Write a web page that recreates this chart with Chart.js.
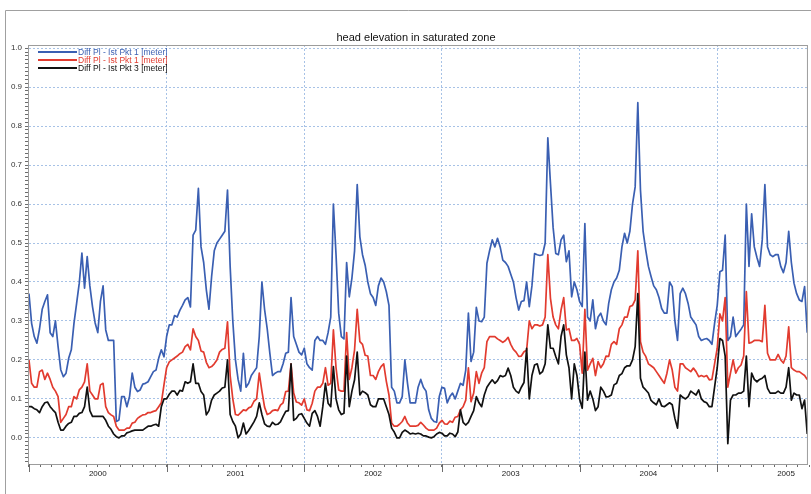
<!DOCTYPE html>
<html>
<head>
<meta charset="utf-8">
<script src="https://cdn.jsdelivr.net/npm/chart.js@4.4.1/dist/chart.umd.min.js"></script>
<style>
  html, body { margin: 0; padding: 0; background: #fff; }
  #wrap { width: 811px; height: 494px; }
</style>
</head>
<body>
<div id="wrap"><canvas id="headChart" width="811" height="494"></canvas></div>
<script>
// weekly readings, Jan 2000 .. Aug 2005, as decimal years
const weeksPerYear = 52;
const sampleCount = 295;
const times = Array.from({ length: sampleCount }, (_, i) => 2000 + i / weeksPerYear);

const years = [2000, 2001, 2002, 2003, 2004, 2005];
const seriesNames = ["Diff Pl - Ist Pkt 1 [meter]", "Diff Pl - Ist Pkt 1 [meter]", "Diff Pl - Ist Pkt 3 [meter]"];

// one row per year
const pkt1Blue = [
  0.37,0.294, 0.26,0.243, 0.28,0.33, 0.35,0.367, 0.27,0.26, 0.30,0.234, 0.175,0.157, 0.166,0.204, 0.226,0.294, 0.345,0.397, 0.474,0.384, 0.465,0.39, 0.337,0.295, 0.27,0.35, 0.39,0.277, 0.25,0.25, 0.25,0.042, 0.046,0.106, 0.106,0.08, 0.106,0.166, 0.13,0.119, 0.123,0.138, 0.14,0.144, 0.157,0.17, 0.174,0.204, 0.226,0.208,
  0.26,0.29, 0.29,0.314, 0.31,0.327, 0.34,0.354, 0.36,0.336, 0.52,0.533, 0.64,0.49, 0.45,0.38, 0.33,0.414, 0.48,0.50, 0.51,0.52, 0.53,0.636, 0.44,0.30, 0.20,0.15, 0.12,0.217, 0.13,0.14, 0.16,0.17, 0.18,0.26, 0.40,0.33, 0.28,0.217, 0.16,0.166, 0.17,0.17, 0.19,0.217, 0.22,0.36, 0.26,0.24, 0.22,0.213,
  0.23,0.19, 0.18,0.174, 0.25,0.26, 0.25,0.25, 0.24,0.27, 0.31,0.60, 0.47,0.32, 0.26,0.254, 0.45,0.362, 0.41,0.48, 0.65,0.516, 0.47,0.443, 0.40,0.37, 0.36,0.34, 0.39,0.41, 0.40,0.375, 0.34,0.13, 0.12,0.09, 0.09,0.106, 0.20,0.14, 0.09,0.09, 0.09,0.13, 0.15,0.13, 0.12,0.072, 0.05,0.042, 0.04,0.106,
  0.13,0.127, 0.09,0.106, 0.115,0.10, 0.12,0.14, 0.135,0.174, 0.32,0.196, 0.22,0.335, 0.30,0.298, 0.31,0.448, 0.48,0.508, 0.49,0.512, 0.49,0.456, 0.45,0.44, 0.42,0.40, 0.36,0.328, 0.35,0.352, 0.40,0.337, 0.39,0.473, 0.47,0.468, 0.47,0.50, 0.77,0.653, 0.54,0.473, 0.47,0.508, 0.52,0.452, 0.48,0.362, 0.40,0.38,
  0.35,0.337, 0.55,0.31, 0.30,0.354, 0.28,0.31, 0.32,0.30, 0.29,0.345, 0.38,0.40, 0.41,0.43, 0.49,0.525, 0.50,0.53, 0.60,0.644, 0.86,0.636, 0.53,0.482, 0.44,0.414, 0.39,0.38, 0.36,0.332, 0.32,0.32, 0.40,0.388, 0.30,0.25, 0.37,0.384, 0.37,0.345, 0.31,0.30, 0.29,0.26, 0.25,0.253, 0.255,0.25, 0.24,0.294,
  0.34,0.426, 0.43,0.52, 0.25,0.26, 0.31,0.26, 0.27,0.279, 0.29,0.60, 0.44,0.575, 0.49,0.463, 0.44,0.508, 0.65,0.49, 0.47,0.465, 0.47,0.47, 0.44,0.424, 0.45,0.53, 0.45,0.397, 0.37,0.354, 0.35,0.388, 0.27
];
const pkt1Red = [
  0.20,0.14, 0.13,0.13, 0.17,0.174, 0.15,0.166, 0.15,0.13, 0.12,0.106, 0.04,0.05, 0.06,0.08, 0.08,0.106, 0.10,0.123, 0.13,0.144, 0.19,0.12, 0.11,0.10, 0.10,0.136, 0.14,0.08, 0.065,0.059, 0.055,0.03, 0.02,0.02, 0.02,0.025, 0.025,0.038, 0.04,0.05, 0.055,0.059, 0.06,0.065, 0.065,0.068, 0.07,0.08, 0.09,0.136,
  0.18,0.195, 0.20,0.205, 0.21,0.216, 0.22,0.234, 0.24,0.226, 0.28,0.26, 0.25,0.223, 0.22,0.194, 0.18,0.183, 0.19,0.20, 0.22,0.227, 0.23,0.298, 0.16,0.10, 0.06,0.058, 0.065,0.072, 0.07,0.077, 0.08,0.094, 0.10,0.166, 0.12,0.079, 0.06,0.063, 0.07,0.072, 0.07,0.084, 0.09,0.119, 0.12,0.19, 0.115,0.092, 0.09,0.084,
  0.10,0.072, 0.07,0.089, 0.12,0.13, 0.13,0.14, 0.18,0.135, 0.14,0.277, 0.18,0.123, 0.12,0.12, 0.27,0.15, 0.18,0.226, 0.33,0.247, 0.24,0.212, 0.21,0.16, 0.16,0.15, 0.17,0.183, 0.19,0.145, 0.11,0.038, 0.03,0.03, 0.035,0.042, 0.055,0.038, 0.03,0.03, 0.03,0.032, 0.04,0.033, 0.025,0.02, 0.02,0.02, 0.025,0.038,
  0.045,0.036, 0.035,0.043, 0.04,0.053, 0.055,0.072, 0.08,0.097, 0.18,0.093, 0.115,0.17, 0.14,0.166, 0.18,0.247, 0.26,0.26, 0.26,0.254, 0.25,0.245, 0.25,0.258, 0.24,0.227, 0.22,0.209, 0.21,0.221, 0.225,0.30, 0.28,0.29, 0.29,0.287, 0.29,0.31, 0.47,0.358, 0.31,0.29, 0.28,0.328, 0.36,0.277, 0.28,0.25, 0.25,0.255,
  0.24,0.166, 0.33,0.174, 0.19,0.204, 0.16,0.196, 0.18,0.19, 0.21,0.209, 0.24,0.247, 0.24,0.28, 0.29,0.31, 0.31,0.337, 0.34,0.354, 0.48,0.247, 0.22,0.209, 0.19,0.185, 0.18,0.17, 0.16,0.15, 0.14,0.166, 0.20,0.174, 0.13,0.12, 0.19,0.19, 0.18,0.175, 0.17,0.179, 0.17,0.157, 0.16,0.157, 0.16,0.149, 0.15,0.19,
  0.23,0.318, 0.30,0.36, 0.13,0.166, 0.20,0.166, 0.18,0.187, 0.21,0.375, 0.243,0.245, 0.25,0.25, 0.25,0.247, 0.34,0.217, 0.20,0.20, 0.20,0.214, 0.20,0.192, 0.21,0.285, 0.18,0.174, 0.17,0.17, 0.165,0.16, 0.15
];
const pkt3Black = [
  0.08,0.08, 0.075,0.072, 0.065,0.08, 0.09,0.092, 0.08,0.072, 0.065,0.04, 0.02,0.02, 0.03,0.037, 0.04,0.055, 0.055,0.063, 0.065,0.08, 0.13,0.07, 0.055,0.055, 0.055,0.055, 0.055,0.045, 0.03,0.022, 0.01,0.003, 0.0,0.005, 0.005,0.013, 0.015,0.018, 0.02,0.02, 0.02,0.02, 0.025,0.03, 0.03,0.033, 0.035,0.03, 0.08,0.10,
  0.10,0.112, 0.12,0.12, 0.11,0.122, 0.12,0.144, 0.14,0.144, 0.19,0.14, 0.14,0.119, 0.11,0.059, 0.07,0.097, 0.11,0.115, 0.12,0.128, 0.13,0.20, 0.06,0.042, 0.03,0.0, 0.01,0.038, 0.01,0.019, 0.03,0.041, 0.055,0.09, 0.06,0.036, 0.03,0.029, 0.04,0.034, 0.035,0.041, 0.055,0.068, 0.07,0.19, 0.045,0.05, 0.06,0.062,
  0.05,0.038, 0.03,0.063, 0.07,0.055, 0.03,0.08, 0.14,0.089, 0.08,0.183, 0.10,0.072, 0.06,0.063, 0.21,0.08, 0.12,0.149, 0.22,0.11, 0.12,0.116, 0.11,0.085, 0.08,0.08, 0.10,0.10, 0.10,0.08, 0.06,0.025, 0.015,0.0, 0.0,0.014, 0.02,0.016, 0.01,0.012, 0.01,0.012, 0.01,0.005, 0.005,0.002, 0.0,0.003, 0.01,0.014,
  0.012,0.005, 0.005,0.012, 0.01,0.003, 0.015,0.072, 0.04,0.033, 0.04,0.055, 0.07,0.106, 0.09,0.08, 0.11,0.13, 0.14,0.149, 0.14,0.147, 0.16,0.157, 0.16,0.179, 0.16,0.13, 0.12,0.115, 0.13,0.142, 0.23,0.10, 0.16,0.187, 0.19,0.164, 0.17,0.19, 0.29,0.23, 0.23,0.209, 0.19,0.26, 0.29,0.213, 0.18,0.10, 0.19,0.16,
  0.10,0.076, 0.22,0.097, 0.12,0.10, 0.07,0.08, 0.13,0.12, 0.105,0.106, 0.11,0.136, 0.14,0.16, 0.165,0.18, 0.185,0.185, 0.20,0.234, 0.37,0.153, 0.13,0.123, 0.115,0.096, 0.09,0.085, 0.10,0.082, 0.08,0.085, 0.09,0.085, 0.05,0.025, 0.11,0.104, 0.10,0.106, 0.12,0.115, 0.11,0.123, 0.10,0.093, 0.09,0.08, 0.08,0.13,
  0.18,0.255, 0.25,0.21, -0.015,0.097, 0.11,0.11, 0.115,0.115, 0.12,0.21, 0.08,0.166, 0.15,0.144, 0.15,0.153, 0.16,0.127, 0.115,0.115, 0.115,0.12, 0.115,0.115, 0.13,0.18, 0.097,0.115, 0.11,0.11, 0.075,0.097, 0.01
];

const BLUE = "#3a5fb2";
const RED = "#e23b2f";
const BLACK = "#111111";
const GRID = "#a7c2e6";
const FRAME = "#9c9c9c";
const TICK = "#6c6c6c";
const FONT = "'Liberation Sans', Arial, sans-serif";

const toPoints = vals => vals.map((v, i) => ({ x: times[i], y: v }));
const isTenth = v => v > -0.001 && Math.abs(v * 10 - Math.round(v * 10)) < 1e-6;
const isYear = v => Math.abs(v - Math.round(v)) < 1e-6;
const isMidYear = v => Math.abs(v - Math.floor(v) - 0.5) < 1e-6;

// page frame, plot frame, title, long year ticks and the legend box
const decorations = {
  id: "decorations",
  beforeDraw(chart) {
    const { ctx } = chart;
    ctx.save();
    ctx.fillStyle = "#fff";
    ctx.fillRect(0, 0, chart.width, chart.height);
    ctx.strokeStyle = "#a0a0a0";
    ctx.lineWidth = 1;
    ctx.beginPath();
    ctx.moveTo(5.5, chart.height);
    ctx.lineTo(5.5, 10.5);
    ctx.lineTo(chart.width, 10.5);
    ctx.stroke();
    ctx.restore();
  },
  afterDraw(chart) {
    const { ctx, chartArea: a } = chart;
    const xs = chart.scales.x;
    ctx.save();
    ctx.strokeStyle = FRAME;
    ctx.lineWidth = 1;
    ctx.strokeRect(a.left + 0.5, a.top + 0.5, a.right - a.left - 1, a.bottom - a.top);

    ctx.strokeStyle = TICK;
    ctx.beginPath();
    years.forEach(yr => {
      const px = Math.round(xs.getPixelForValue(yr)) + 0.5;
      ctx.moveTo(px, a.bottom);
      ctx.lineTo(px, a.bottom + 8);
    });
    ctx.stroke();

    ctx.fillStyle = "#111";
    ctx.font = "11px " + FONT;
    ctx.textAlign = "center";
    ctx.textBaseline = "middle";
    ctx.fillText("head elevation in saturated zone", 416, 38);

    const colors = [BLUE, RED, BLACK];
    ctx.font = "8.5px " + FONT;
    ctx.textAlign = "left";
    seriesNames.forEach((name, i) => {
      const yy = 52 + i * 8;
      ctx.strokeStyle = colors[i];
      ctx.lineWidth = 2;
      ctx.beginPath();
      ctx.moveTo(38, yy);
      ctx.lineTo(77, yy);
      ctx.stroke();
      ctx.fillStyle = colors[i];
      ctx.fillText(name, 78, yy + 0.5);
    });
    ctx.restore();
  }
};

const line = (label, vals, color, order) => ({
  label,
  data: toPoints(vals),
  borderColor: color,
  borderWidth: 1.7,
  borderJoinStyle: "round",
  pointRadius: 0,
  tension: 0,
  fill: false,
  order
});

new Chart(document.getElementById("headChart"), {
  type: "line",
  data: {
    datasets: [
      line(seriesNames[0], pkt1Blue, BLUE, 3),
      line(seriesNames[1], pkt1Red, RED, 2),
      line(seriesNames[2], pkt3Black, BLACK, 1)
    ]
  },
  options: {
    responsive: false,
    devicePixelRatio: 1,
    animation: false,
    layout: { padding: { left: 6, top: 45, right: 1, bottom: 0 } },
    plugins: {
      legend: { display: false },
      title: { display: false },
      tooltip: { enabled: false }
    },
    scales: {
      x: {
        type: "linear",
        min: 1999.993,
        max: 2005.659,
        afterBuildTicks: scale => {
          const ticks = [];
          for (let m = 0; m <= 68; m++) ticks.push({ value: 2000 + m / 12 });
          scale.ticks = ticks;
        },
        afterFit: scale => { scale.height = 30; },
        ticks: {
          autoSkip: false,
          maxRotation: 0,
          minRotation: 0,
          padding: 2,
          color: "#222",
          font: { family: FONT, size: 8 },
          callback: v => isMidYear(v) ? String(Math.floor(v)) : ""
        },
        grid: {
          color: c => isYear(c.tick.value) ? GRID : "rgba(0,0,0,0)",
          tickColor: TICK,
          tickLength: 3
        },
        border: { color: FRAME, dash: [2, 2] }
      },
      y: {
        min: -0.067,
        max: 1.008,
        afterBuildTicks: scale => {
          const ticks = [];
          for (let k = -6; k <= 100; k++) ticks.push({ value: k / 100 });
          scale.ticks = ticks;
        },
        afterFit: scale => { scale.width = 22; },
        ticks: {
          autoSkip: false,
          padding: 3,
          color: "#333",
          font: { family: FONT, size: 8 },
          callback: v => isTenth(v) ? v.toFixed(1) : ""
        },
        grid: {
          color: c => isTenth(c.tick.value) ? GRID : "rgba(0,0,0,0)",
          tickColor: TICK,
          tickLength: 3
        },
        border: { color: FRAME, dash: [2, 2] }
      }
    }
  },
  plugins: [decorations]
});
</script>
</body>
</html>
